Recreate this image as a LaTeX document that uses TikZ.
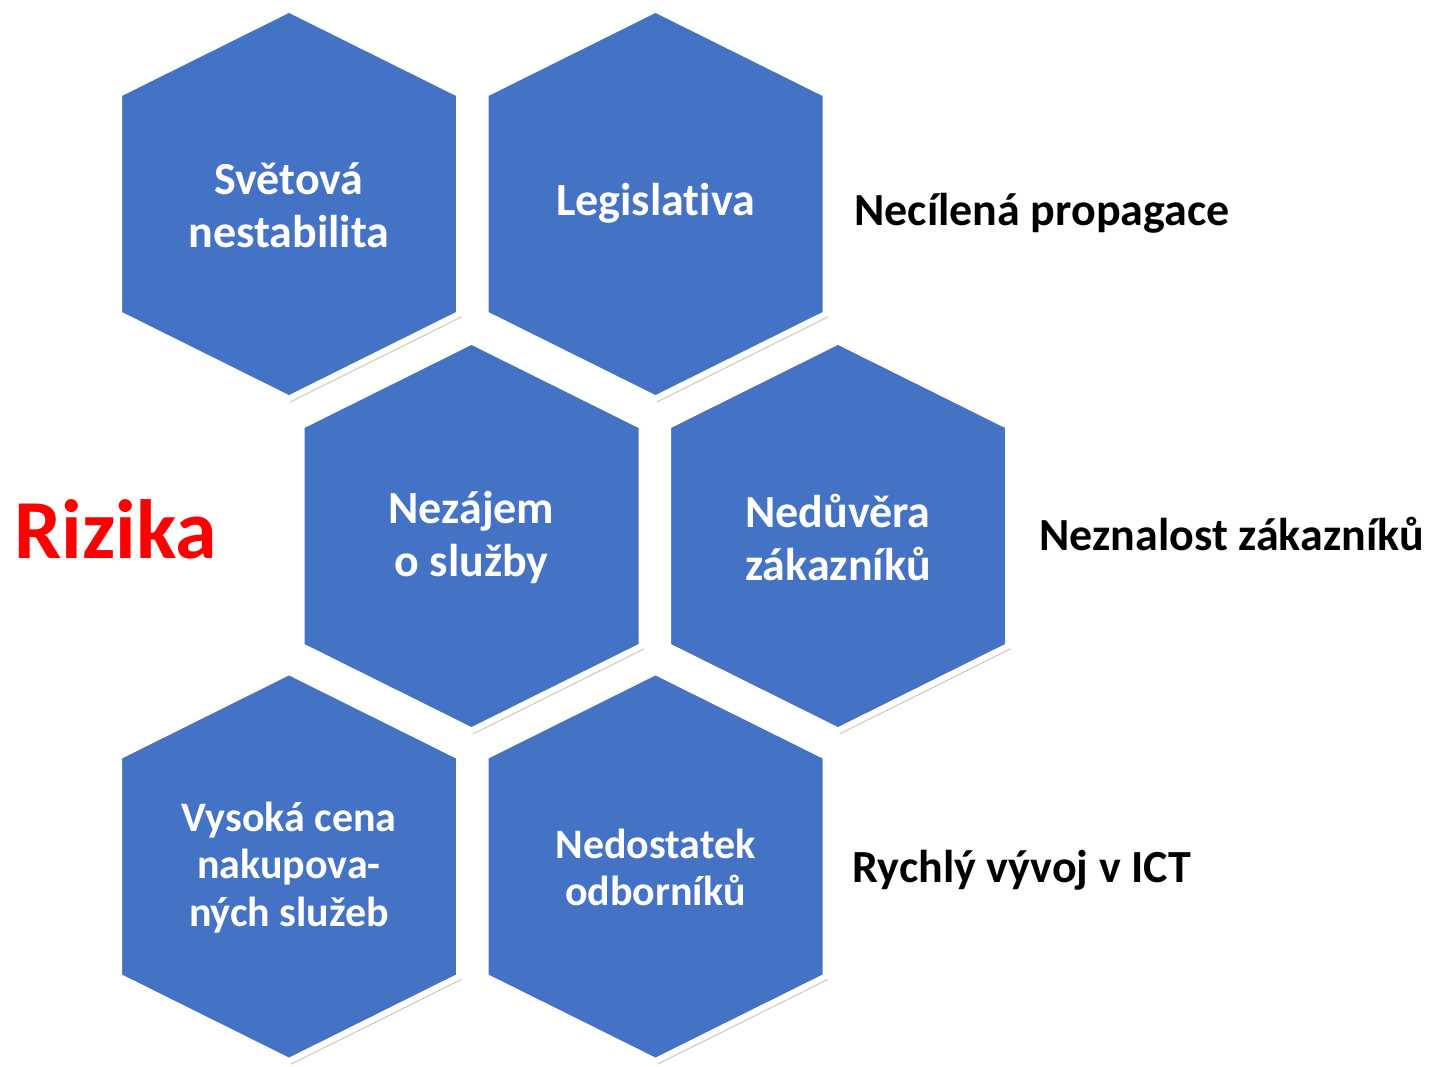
\documentclass[tikz,border=0pt]{standalone}
\usepackage{fontspec}
\setmainfont{Carlito}[Ligatures={NoCommon,NoContextual}]
\usetikzlibrary{shadows}

\definecolor{hexblue}{HTML}{4472C4}
\definecolor{rizred}{HTML}{FF0000}

\tikzset{
  hexcell/.style={fill=hexblue, draw=white, line width=6pt, line join=miter,
    drop shadow={shadow xshift=2.5pt, shadow yshift=-3.5pt, fill=black, opacity=0.2}},
  hextext/.style={text=white, font=\fontsize{46}{53}\selectfont\bfseries, align=center},
  smalltext/.style={text=white, font=\fontsize{42}{47.5}\selectfont\bfseries, align=center},
  sidetext/.style={font=\fontsize{46}{53}\selectfont\bfseries, anchor=base west},
}

\begin{document}
\begin{tikzpicture}[x=1pt, y=-1pt]
        \useasboundingbox (0,0) rectangle (1432,1066);

        % honeycomb
        \foreach \cx/\cy in {289/204, 655.5/204, 471.5/536, 838/536, 289/866.5, 655.5/866.5}
          \path[hexcell] (\cx,\cy-194.5) -- (\cx+170,\cy-110) -- (\cx+170,\cy+110)
            -- (\cx,\cy+194.5) -- (\cx-170,\cy+110) -- (\cx-170,\cy-110) -- cycle;

        \node[hextext] (svet) at (289,205) {Světová\\nestabilita};
        \node[hextext] (legis) at (655.5,203) {Legislativa};
        \node[hextext] (nezaj) at (471.5,537) {Nezájem\\o služby};
        \node[hextext] (nedu) at (838,537) {Nedůvěra\\zákazníků};
        \node[smalltext] (vysok) at (289,867.5) {Vysoká cena\\nakupova-\\ných služeb};
        \node[smalltext] (nedos) at (655.5,867.5) {Nedostatek\\odborníků};

        \node[anchor=base west, text=rizred, font=\fontsize{84}{96}\selectfont\bfseries] (riz) at (11,558) {Rizika};

        \node[sidetext] (propag) at (851,225) {Necílená propagace};
        \node[sidetext] (nezn) at (1036,550) {Neznalost zákazníků};
        \node[sidetext] (ict) at (849,882) {Rychlý vývoj v ICT};
      \end{tikzpicture}
\end{document}
